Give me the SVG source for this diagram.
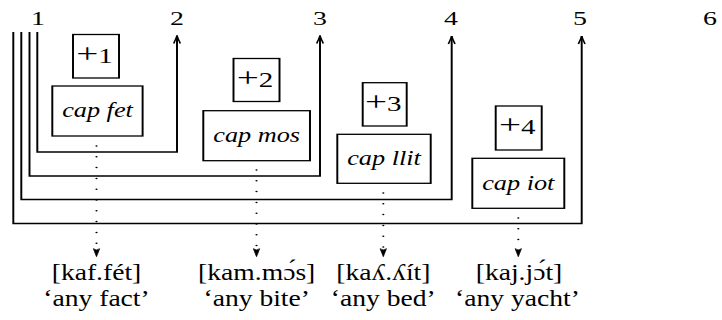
<svg xmlns="http://www.w3.org/2000/svg" width="722" height="320" viewBox="0 0 722 320">
<defs>
<style>
.num{font-family:"Liberation Serif","Times New Roman",serif;font-size:18px;text-anchor:middle;fill:#000}
.plus{font-family:"Liberation Serif","Times New Roman",serif;font-size:20px;text-anchor:middle;fill:#000}
.pl{font-size:27px}
.it{font-family:"Liberation Serif","Times New Roman",serif;font-size:21px;font-style:italic;text-anchor:middle;fill:#000}
.ipa{font-family:"Liberation Serif","DejaVu Serif",serif;font-size:23px;text-anchor:middle;fill:#000}
.box{fill:#fff;stroke:#000;stroke-width:1.3}
.conn{fill:none;stroke:#000;stroke-width:1.3}
.dot{fill:none;stroke:#000;stroke-width:1.5;stroke-linecap:round;stroke-dasharray:0 10.8}
</style>
<marker id="ah" viewBox="-10 -5 11 10" markerWidth="11" markerHeight="10" refX="0" refY="0" orient="auto" markerUnits="userSpaceOnUse">
<path d="M-8,-2.2 Q-3,-0.6 0,0 Q-3,0.6 -8,2.2" fill="none" stroke="#000" stroke-width="1.1"/>
</marker>
<marker id="ahd" viewBox="-10 -5 11 10" markerWidth="11" markerHeight="10" refX="0" refY="0" orient="auto" markerUnits="userSpaceOnUse">
<path d="M0,0 L-8,-2.1 Q-5.5,0 -8,2.1 Z" fill="#000" stroke="#000" stroke-width="0.6" stroke-linejoin="round"/>
</marker>
</defs>
<g id="labels">
<text class="num" transform="translate(38,25) scale(1.55,1)">1</text>
<text class="num" transform="translate(177,25) scale(1.55,1)">2</text>
<text class="num" transform="translate(320,25) scale(1.55,1)">3</text>
<text class="num" transform="translate(451,25) scale(1.55,1)">4</text>
<text class="num" transform="translate(580,25) scale(1.55,1)">5</text>
<text class="num" transform="translate(710,25) scale(1.55,1)">6</text>
</g>
<g id="connectors" transform="scale(1.5,1)">
<path class="conn" d="M24.87,32 V152 H118 V35.5" marker-end="url(#ah)"/>
<path class="conn" d="M19.67,32 V176 H213.33 V35.5" marker-end="url(#ah)"/>
<path class="conn" d="M14.2,32 V199.5 H301.13 V36" marker-end="url(#ah)"/>
<path class="conn" d="M8.87,32 V223.5 H387.8 V36" marker-end="url(#ah)"/>
<path class="dot" d="M64.33,146 V250"/>
<path class="dot" d="M171,170 V250"/>
<path class="dot" d="M255.53,193 V250"/>
<path class="dot" d="M345.53,218 V250"/>
<path d="M64.33,249 V256.7" fill="none" stroke="none" marker-end="url(#ahd)"/>
<path d="M171,249 V256.7" fill="none" stroke="none" marker-end="url(#ahd)"/>
<path d="M255.53,249 V256.7" fill="none" stroke="none" marker-end="url(#ahd)"/>
<path d="M345.53,249 V256.7" fill="none" stroke="none" marker-end="url(#ahd)"/>
</g>
<g id="inc1"><rect class="box" transform="scale(1.5,1)" x="48.67" y="34.5" width="30.67" height="43.5"/><text class="plus" transform="translate(94.5,63) scale(1.45,1)"><tspan class="pl">+</tspan>1</text></g>
<g id="capfet"><rect class="box" transform="scale(1.5,1)" x="34.87" y="86" width="60.2" height="50"/><text class="it" transform="translate(97.5,117) scale(1.25,1)">cap fet</text></g>
<g id="inc2"><rect class="box" transform="scale(1.5,1)" x="155.67" y="58.5" width="30.67" height="43"/><text class="plus" transform="translate(255,86.5) scale(1.45,1)"><tspan class="pl">+</tspan>2</text></g>
<g id="capmos"><rect class="box" transform="scale(1.5,1)" x="135.53" y="110.7" width="71.13" height="50"/><text class="it" transform="translate(256.7,141.7) scale(1.25,1)">cap mos</text></g>
<g id="inc3"><rect class="box" transform="scale(1.5,1)" x="241.8" y="82.7" width="29.33" height="43.3"/><text class="plus" transform="translate(383.2,110.5) scale(1.45,1)"><tspan class="pl">+</tspan>3</text></g>
<g id="capllit"><rect class="box" transform="scale(1.5,1)" x="224.87" y="134.3" width="62.27" height="49"/><text class="it" transform="translate(384,165) scale(1.25,1)">cap llit</text></g>
<g id="inc4"><rect class="box" transform="scale(1.5,1)" x="330.47" y="106" width="30.67" height="44"/><text class="plus" transform="translate(517.2,134) scale(1.45,1)"><tspan class="pl">+</tspan>4</text></g>
<g id="capiot"><rect class="box" transform="scale(1.5,1)" x="314.87" y="158.3" width="61.33" height="50"/><text class="it" transform="translate(518.3,190) scale(1.25,1)">cap iot</text></g>
<g id="out1"><text class="ipa" transform="translate(96.5,280) scale(1.2,1)">[kaf.fét]</text><text class="ipa" transform="translate(96.5,306) scale(1.2,1)">‘any fact’</text></g>
<g id="out2"><text class="ipa" transform="translate(256.7,280) scale(1.2,1)">[kam.mɔ́s]</text><text class="ipa" transform="translate(256.7,306) scale(1.2,1)">‘any bite’</text></g>
<g id="out3"><text class="ipa" transform="translate(383.3,280) scale(1.2,1)">[kaʎ.ʎít]</text><text class="ipa" transform="translate(383.3,306) scale(1.2,1)">‘any bed’</text></g>
<g id="out4"><text class="ipa" transform="translate(519,280) scale(1.2,1)">[kaj.jɔ́t]</text><text class="ipa" transform="translate(517.5,306) scale(1.2,1)">‘any yacht’</text></g>
</svg>
